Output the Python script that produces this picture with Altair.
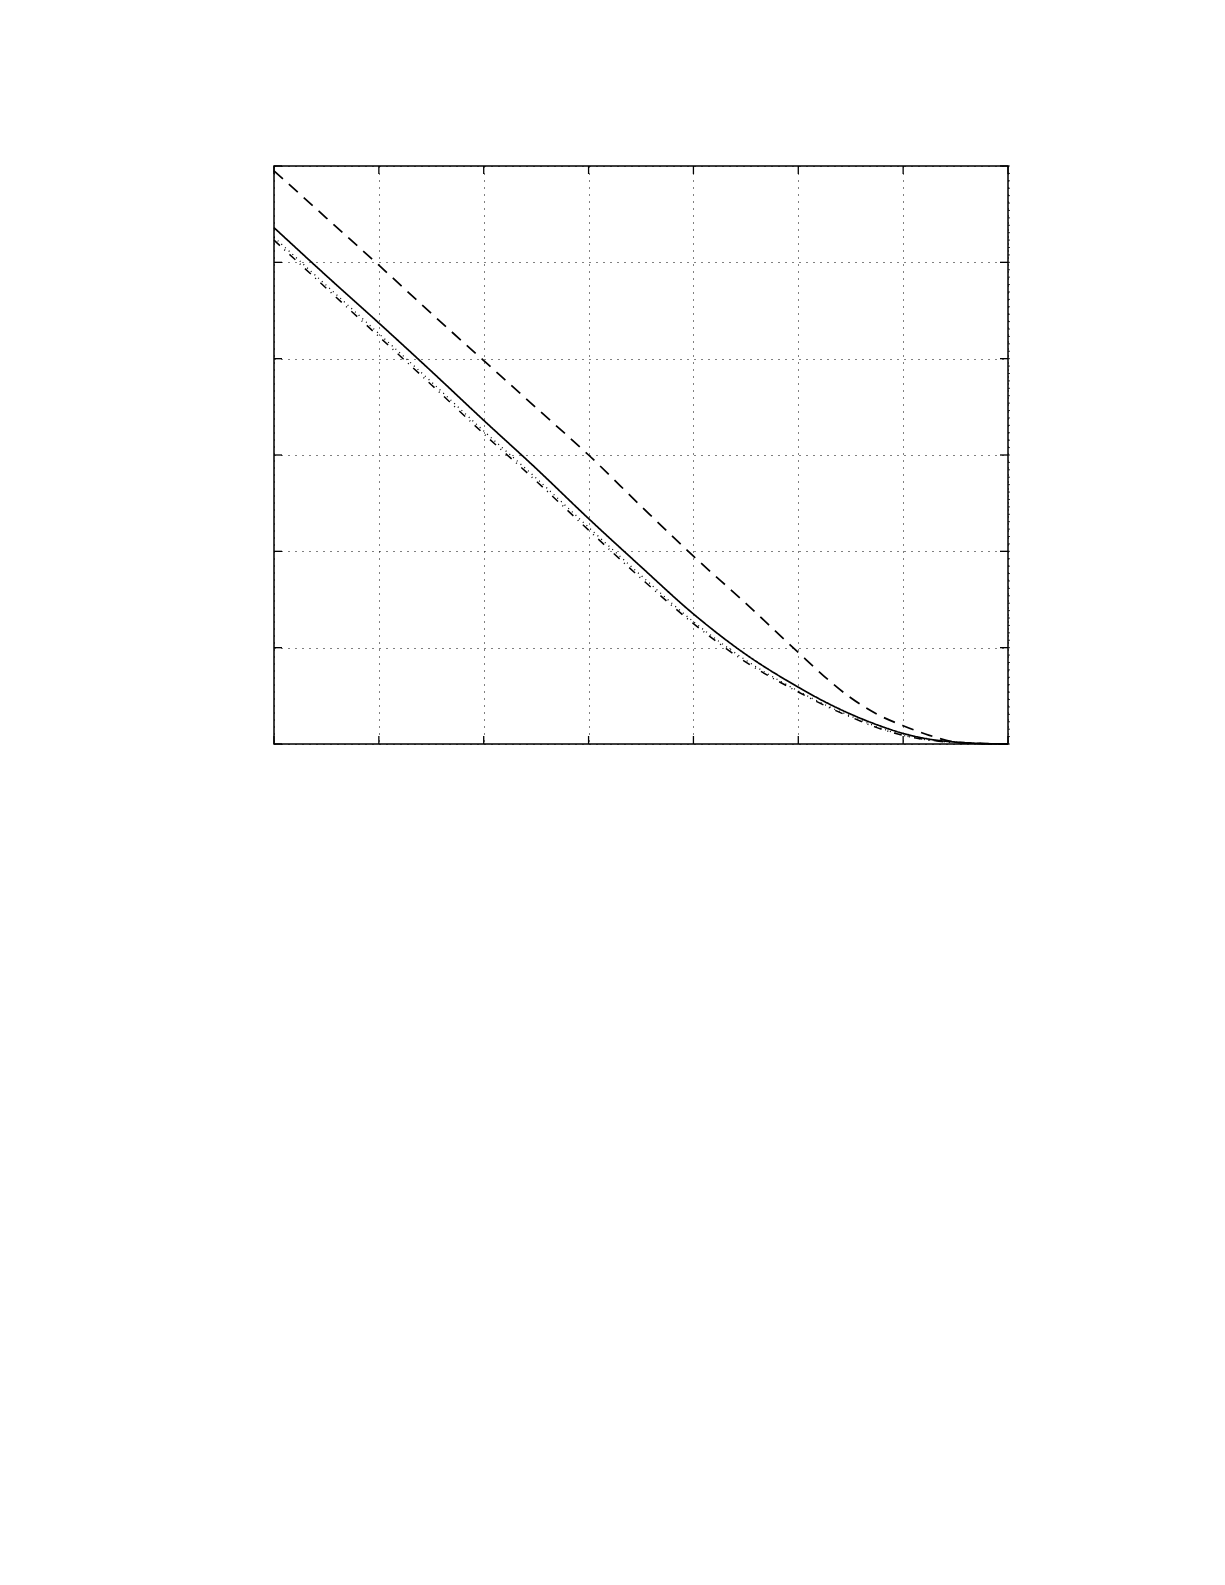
# Curvas decrescentes sem rótulos (estilo MATLAB): grade pontilhada e marcas internas
import altair as alt
import numpy as np
import pandas as pd

# Valores (eixos sem rótulos: x em 0..7, y em 0..6)
x_vals = [0, 0.5, 1, 1.5, 2, 2.5, 3, 3.5, 4, 4.5, 5, 5.25, 5.5, 5.75, 6, 6.25, 6.5, 6.75, 7]
dashed_vals = [5.95, 5.46, 4.97, 4.47, 3.98, 3.49, 3.0, 2.47, 1.95, 1.46, 0.95, 0.70, 0.48, 0.31, 0.19, 0.09, 0.02, 0.005, 0]
solid_vals = [5.36, 4.86, 4.37, 3.87, 3.36, 2.86, 2.34, 1.84, 1.35, 0.93, 0.59, 0.44, 0.31, 0.20, 0.11, 0.05, 0.02, 0.005, 0]
dashdot_vals = [5.23, 4.73, 4.23, 3.73, 3.22, 2.73, 2.22, 1.72, 1.25, 0.85, 0.54, 0.40, 0.28, 0.17, 0.09, 0.04, 0.015, 0.004, 0]
dotted_vals = [5.26, 4.76, 4.26, 3.76, 3.25, 2.76, 2.25, 1.75, 1.27, 0.87, 0.55, 0.41, 0.29, 0.18, 0.09, 0.04, 0.015, 0.004, 0]

x_ticks = [0, 1, 2, 3, 4, 5, 6, 7]
y_ticks = [0, 1, 2, 3, 4, 5, 6]
y_minor = list(np.arange(0, 6.0001, 1 / 13))

W, H = 734, 578

x_scale = alt.Scale(domain=[0, 7], nice=False, zero=False)
y_scale = alt.Scale(domain=[0, 6], nice=False, zero=False)

series = [
    ('dashed', dashed_vals, [12, 8], 1.7),
    ('solid', solid_vals, [1, 0], 1.7),
    ('dashdot', dashdot_vals, [8, 6, 1, 6], 1.5),
    ('dotted', dotted_vals, [1, 4], 1.3),
]

layers = []

# Camada base: define os eixos (só a grade pontilhada)
grid_df = pd.DataFrame({'x': [0, 7], 'y': [0, 6]})
grid = alt.Chart(grid_df).mark_point(opacity=0).encode(
    x=alt.X('x:Q', scale=x_scale, title=None, axis=alt.Axis(values=x_ticks)),
    y=alt.Y('y:Q', scale=y_scale, title=None, axis=alt.Axis(values=y_ticks)),
)
layers.append(grid)

# Curvas
for name, vals, dash, width in series:
    df = pd.DataFrame({'x': x_vals, 'y': vals})
    line = alt.Chart(df).mark_line(color='black', strokeDash=dash, strokeWidth=width,
                                   interpolate='monotone').encode(
        x=alt.X('x:Q', scale=x_scale, title=None),
        y=alt.Y('y:Q', scale=y_scale, title=None),
    )
    layers.append(line)

# Marcas internas nos quatro lados
xt = pd.DataFrame({'t': x_ticks})
yt = pd.DataFrame({'t': y_ticks})
ym = pd.DataFrame({'t': y_minor})
tick_style = dict(color='black', strokeWidth=1.3)

layers.append(alt.Chart(xt).mark_rule(**tick_style).encode(
    x=alt.X('t:Q', scale=x_scale, title=None), y=alt.value(H), y2=alt.value(H - 8)))
layers.append(alt.Chart(xt).mark_rule(**tick_style).encode(
    x=alt.X('t:Q', scale=x_scale, title=None), y=alt.value(0), y2=alt.value(8)))
layers.append(alt.Chart(yt).mark_rule(**tick_style).encode(
    y=alt.Y('t:Q', scale=y_scale, title=None), x=alt.value(0), x2=alt.value(8)))
layers.append(alt.Chart(yt).mark_rule(**tick_style).encode(
    y=alt.Y('t:Q', scale=y_scale, title=None), x=alt.value(W), x2=alt.value(W - 8)))
layers.append(alt.Chart(ym).mark_rule(color='black', strokeWidth=0.8).encode(
    y=alt.Y('t:Q', scale=y_scale, title=None), x=alt.value(W), x2=alt.value(W + 2)))

chart = (
    alt.layer(*layers)
    .properties(width=W, height=H, autosize=alt.AutoSizeParams(type='none'),
                padding={'left': 266, 'top': 158, 'right': 20, 'bottom': 20},
                background='white')
    .configure_axis(labels=False, ticks=False, domain=False, grid=True,
                    gridColor='black', gridOpacity=1, gridWidth=1, gridDash=[1, 6])
    .configure_view(stroke='black', strokeWidth=1.5)
)

chart.save('out.html', embed_options={'renderer': 'svg', 'actions': False})
